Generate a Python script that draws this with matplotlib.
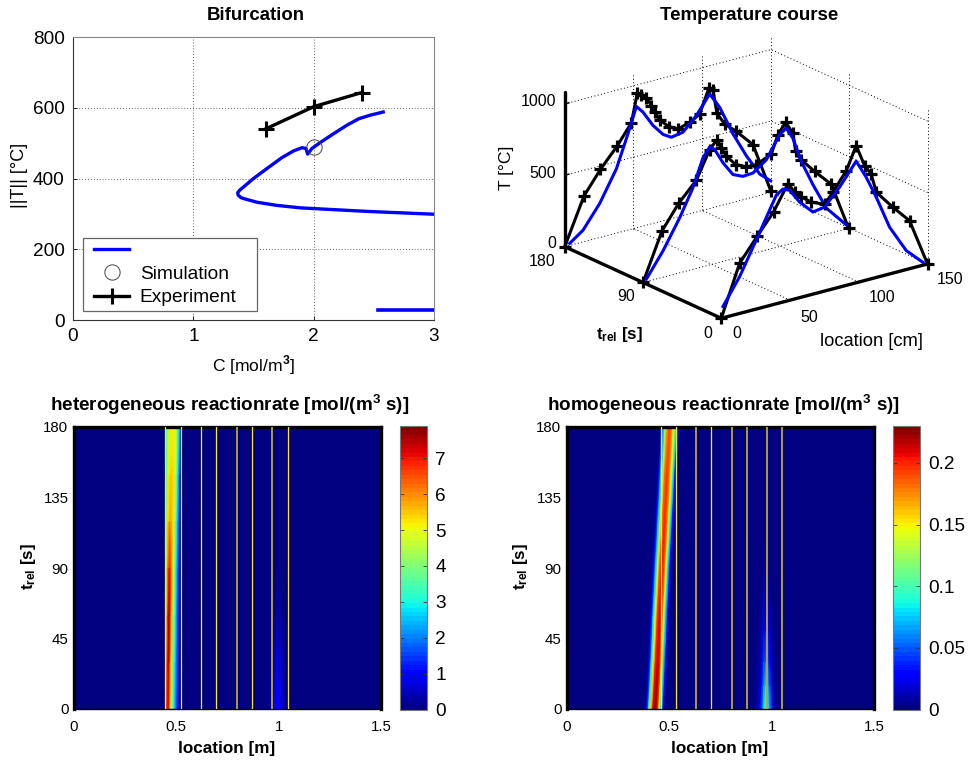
#!/usr/bin/env python3

import numpy as np
import matplotlib
matplotlib.use('Agg')
import matplotlib.pyplot as plt
from matplotlib.cm import ScalarMappable
from matplotlib.colors import Normalize
from matplotlib.legend_handler import HandlerLine2D
from matplotlib.lines import Line2D

plt.rcParams['font.family'] = ['Liberation Sans', 'DejaVu Sans']
plt.rcParams['mathtext.fontset'] = 'custom'
plt.rcParams['mathtext.rm'] = 'Liberation Sans'
plt.rcParams['mathtext.bf'] = 'Liberation Sans:bold'

W, H = 968, 765

# bifurcation diagram
bif_c = [2.578, 2.47, 2.375, 2.278, 2.167, 2.056, 1.986, 1.95, 1.936, 1.903, 1.833, 1.736, 1.611,
         1.5, 1.417, 1.385, 1.369, 1.372, 1.395, 1.431, 1.528, 1.694, 1.889, 2.167, 2.444, 2.722, 3.0]
bif_t = [588, 579, 569, 551, 527, 502, 485, 469, 485, 487, 478, 459, 428,
         400, 376, 367, 360, 353, 346, 342, 333, 324, 317, 312, 307, 303, 299]
low_c = [2.533, 3.0]
low_t = [27, 27]
exp_c = [1.6, 2.0, 2.4]
exp_t = [540, 603, 643]
sim_c = [2.0]
sim_t = [490]

# temperature course, one profile per t_rel
exp_x_180 = [0, 14, 26, 38, 48.5, 52.8, 55.7, 59.4, 63, 65.9, 69, 75.6, 82.4, 91.3, 98.1, 104.9,
             107.8, 110.7, 116.3, 124.8, 136.9, 150]
exp_z_180 = [0, 320, 476, 607, 745, 944, 918, 892, 829, 775, 713, 650, 616, 640, 681, 845,
             824, 653, 564, 491, 367, 7]
sim_x_180 = [3.6, 13.3, 25.4, 37.6, 46, 52.1, 56.9, 64.2, 71.5, 77.5, 86, 95.7, 105.4, 112.7,
             122.4, 132, 141.8, 149.7]
sim_z_180 = [14, 82, 238, 451, 675, 850, 798, 686, 605, 570, 584, 675, 802, 690, 479, 303, 149, 82]

exp_x_90 = [0, 13.8, 25.9, 38.8, 48.5, 53.8, 56.9, 60.6, 67.4, 75.1, 82.4, 93.3, 98.1, 103.7,
            109, 111, 115, 124.8, 136.9, 149.5]
exp_z_90 = [0, 326, 488, 618, 808, 864, 798, 730, 655, 619, 616, 663, 786, 858,
            769, 636, 568, 461, 341, 1]
sim_x_90 = [2.4, 14.5, 26.7, 36.3, 43.6, 48.5, 52.1, 58.2, 65.4, 72.7, 80, 89.7, 99.3, 104.2,
            109, 115.1, 123.6, 133.3, 147.8]
sim_z_90 = [17, 184, 386, 571, 762, 827, 799, 690, 590, 559, 564, 632, 783, 817,
            734, 556, 371, 183, 29]

exp_x_0 = [0, 13.3, 26.2, 38, 48.5, 53.3, 58.2, 65.4, 75.1, 81.2, 90.9, 98.1, 104.2, 109, 112.7,
           124.8, 136.9, 150]
exp_z_0 = [0, 351, 509, 648, 820, 749, 702, 648, 607, 678, 803, 960, 805, 734, 597,
           461, 336, 0]
sim_x_0 = [1.2, 13.3, 25.4, 35.1, 40, 44.8, 49.7, 56.9, 66.6, 75.1, 86, 98.1, 105.4, 112.7,
           122.4, 134.5, 146.6]
sim_z_0 = [79, 257, 483, 668, 760, 791, 770, 670, 575, 588, 700, 851, 720, 562, 327, 133, 20]

# heterogeneous rate, band near the first catalyst section
het_loc = [0.445, 0.447, 0.453, 0.46, 0.467, 0.475, 0.485, 0.495, 0.505, 0.515, 0.522, 0.528]
het_t = [0, 30, 60, 90, 120, 150, 180]
het_rate = [
    [0, 3.5, 6.8, 7.2, 6.2, 4.6, 3.3, 2.2, 1.2, 0.5, 0.2, 0],
    [0, 3.0, 6.2, 7.7, 7.0, 5.4, 3.8, 2.6, 1.4, 0.6, 0.2, 0],
    [0, 2.6, 5.5, 7.6, 7.7, 6.0, 4.4, 3.0, 1.7, 0.7, 0.2, 0],
    [0, 2.4, 4.8, 6.6, 7.2, 6.4, 5.0, 3.5, 2.1, 0.9, 0.3, 0],
    [0, 2.4, 4.1, 5.4, 5.9, 5.8, 5.3, 4.2, 2.7, 1.3, 0.5, 0],
    [0, 2.6, 3.7, 4.7, 5.3, 5.5, 5.4, 4.8, 3.3, 1.8, 0.9, 0],
    [0, 2.8, 3.6, 4.4, 4.8, 5.0, 5.1, 4.9, 4.0, 2.7, 1.6, 0],
]
het_spot_loc = [0.95, 0.968, 0.98, 0.99, 1.0, 1.01, 1.025, 1.04, 1.05]
het_spot_t = [0, 20, 40, 60, 90]
het_spot_rate = [
    [0, 0.3, 0.9, 1.1, 1.0, 0.8, 0.4, 0.1, 0],
    [0, 0.2, 0.6, 0.8, 0.8, 0.6, 0.3, 0.05, 0],
    [0, 0.1, 0.4, 0.5, 0.5, 0.4, 0.2, 0.03, 0],
    [0, 0.05, 0.15, 0.25, 0.25, 0.2, 0.1, 0, 0],
    [0, 0, 0, 0, 0, 0, 0, 0, 0],
]
het_sections = [0.4466, 0.523, 0.621, 0.696, 0.796, 0.869, 0.969, 1.044]
het_section_bright = [True, True, True, True, False, True, False, True]

# homogeneous rate, band drifts with time
hom_t = [0, 30, 60, 90, 120, 150, 180]
hom_peak = [0.43, 0.442, 0.452, 0.463, 0.476, 0.488, 0.50]
hom_off = [-0.05, -0.04, -0.03, -0.02, -0.01, 0, 0.01, 0.02, 0.03, 0.04, 0.05]
hom_rate = [
    [0, 0.03, 0.09, 0.16, 0.215, 0.23, 0.215, 0.155, 0.08, 0.025, 0],
    [0, 0.025, 0.08, 0.15, 0.2, 0.215, 0.205, 0.15, 0.08, 0.025, 0],
    [0, 0.025, 0.08, 0.145, 0.195, 0.21, 0.2, 0.15, 0.08, 0.025, 0],
    [0, 0.025, 0.075, 0.14, 0.19, 0.205, 0.195, 0.15, 0.08, 0.025, 0],
    [0, 0.025, 0.075, 0.135, 0.185, 0.2, 0.19, 0.15, 0.085, 0.03, 0.004],
    [0, 0.025, 0.07, 0.13, 0.18, 0.195, 0.185, 0.15, 0.09, 0.035, 0.008],
    [0, 0.02, 0.065, 0.125, 0.175, 0.19, 0.18, 0.15, 0.095, 0.04, 0.012],
]
hom_spot_loc = [0.915, 0.935, 0.95, 0.96, 0.97, 0.98, 0.99, 1.005, 1.02]
hom_spot_t = [0, 15, 30, 50, 70, 90, 110]
hom_spot_rate = [
    [0, 0.012, 0.04, 0.08, 0.105, 0.095, 0.065, 0.02, 0],
    [0, 0.008, 0.03, 0.06, 0.08, 0.072, 0.045, 0.012, 0],
    [0, 0.005, 0.02, 0.04, 0.055, 0.05, 0.03, 0.008, 0],
    [0, 0.003, 0.012, 0.024, 0.03, 0.028, 0.018, 0.005, 0],
    [0, 0.001, 0.006, 0.012, 0.016, 0.014, 0.009, 0.002, 0],
    [0, 0, 0.002, 0.005, 0.008, 0.007, 0.003, 0, 0],
    [0, 0, 0, 0, 0, 0, 0, 0, 0],
]
hom_sections = [0.458, 0.531, 0.631, 0.704, 0.806, 0.879, 0.979, 1.052]
hom_section_bright = [True, True, False, True, False, False, False, False]


def add_axes_px(left, top, right, bottom, **kwargs):
    return fig.add_axes([left / W, 1 - bottom / H, (right - left) / W, (bottom - top) / H], **kwargs)


def label(x, y, text, size, **kwargs):
    fig.text(x / W, 1 - y / H, text, fontsize=size,
             ha=kwargs.pop('ha', 'center'), va=kwargs.pop('va', 'center'), **kwargs)


def heat_panel(left, right, cleft, cright, vmax, cticks, cticklabels, sections, section_bright):
    ax = add_axes_px(left, 427, right, 709)
    ax.set_facecolor(jet(0))
    ax.set_xlim(0, 1.5)
    ax.set_ylim(0, 180)
    ax.set_xticks([0, 0.5, 1, 1.5])
    ax.set_xticklabels(['0', '0.5', '1', '1.5'])
    ax.set_yticks([0, 45, 90, 135, 180])
    ax.tick_params(length=0, labelsize=10.8)
    ax.tick_params(axis='x', pad=8)
    ax.tick_params(axis='y', pad=4)
    for side in ['top', 'left', 'right']:
        ax.spines[side].set_linewidth(2.4)
    ax.spines['bottom'].set_linewidth(1.0)

    cax = add_axes_px(cleft, 426, cright, 709.5)
    cb = fig.colorbar(ScalarMappable(Normalize(0, vmax), jet), cax=cax)
    cb.set_ticks(cticks)
    cb.set_ticklabels(cticklabels)
    cax.tick_params(length=3, width=0.6, direction='in', labelsize=13.7, pad=6, left=True, color='#333333')
    cb.outline.set_linewidth(0.8)
    cb.outline.set_edgecolor('#777777')

    for s, bright in zip(sections, section_bright):
        if bright:
            ax.axvline(s, color='#ffee00', lw=0.9, zorder=5)
        else:
            ax.axvline(s, color='#b5a62a', lw=1.35, zorder=5)
    return ax


jet = plt.get_cmap('jet', 64)
fig = plt.figure(figsize=(W / 100, H / 100), dpi=100)

# Bifurcation
ax1 = add_axes_px(73, 37, 434, 320)
ax1.plot(bif_c, bif_t, color='#0000ff', lw=2.4, label=' ', solid_joinstyle='round')
ax1.plot(low_c, low_t, color='#0000ff', lw=2.6)
ax1.plot(sim_c, sim_t, 'o', mfc='none', mec='#444444', mew=0.7, ms=11, label='Simulation')
ax1.plot(exp_c, exp_t, color='black', lw=2.4, marker='+', ms=11, mew=2.2, label='Experiment')
ax1.set_xlim(0, 3)
ax1.set_ylim(0, 800)
ax1.set_xticks([0, 1, 2, 3])
ax1.set_yticks([0, 200, 400, 600, 800])
ax1.tick_params(direction='in', length=3, width=0.6, labelsize=13.7, pad=6)
ax1.grid(True, linestyle=(0, (1, 2.5)), color='#333333', lw=0.6)
ax1.set_axisbelow(True)
for side in ['left', 'bottom']:
    ax1.spines[side].set_color('#333333')
for side in ['top', 'right']:
    ax1.spines[side].set_color('#888888')
leg = ax1.legend(loc='lower left', bbox_to_anchor=(0.028, 0.032, 0.482, 0.258), mode='expand', fontsize=13.8,
                 frameon=True, fancybox=False, framealpha=1, edgecolor='#666666', borderaxespad=0, borderpad=0.24,
                 handlelength=2.15, labelspacing=0.3, handletextpad=0.57,
                 handler_map={Line2D: HandlerLine2D(xpad=0.35)})
leg.get_frame().set_linewidth(0.9)

label(255.5, 15, 'Bifurcation', 13.4, fontweight='bold')
label(254, 365, r'C [mol/m$^{\mathbf{3}}$]', 12.6)
label(20, 175, '||T|| [°C]', 13, rotation=90)

# Temperature course
ax2 = fig.add_axes([(740.5 - 209) / W, 1 - (183.5 + 209) / H, 418 / W, 418 / H], projection='3d', computed_zorder=False)
ax2.set_proj_type('ortho')
ax2.set_xlim(0, 150, view_margin=0)
ax2.set_ylim(0, 180, view_margin=0)
ax2.set_zlim(0, 1085, view_margin=0)
ax2.set_box_aspect((1, 1, 0.638), zoom=0.933)
ax2.view_init(elev=20.3, azim=-127.2)
ax2.set_axis_off()
ax2.patch.set_alpha(0)

grid_kw = dict(color='black', lw=0.7, linestyle=(0, (1, 2.5)), zorder=1)
for t in [90, 180]:
    ax2.plot([0, 150], [t, t], [0, 0], **grid_kw)
for x in [50, 100, 150]:
    ax2.plot([x, x], [0, 180], [0, 0], **grid_kw)
    ax2.plot([x, x], [180, 180], [0, 1085], **grid_kw)
for t in [0, 90]:
    ax2.plot([150, 150], [t, t], [0, 1085], **grid_kw)
for z in [500, 1000]:
    ax2.plot([0, 150], [180, 180], [z, z], **grid_kw)
    ax2.plot([150, 150], [0, 180], [z, z], **grid_kw)

edge_kw = dict(color='black', lw=2.4, zorder=2, solid_capstyle='round')
ax2.plot([0, 0], [180, 0], [0, 0], **edge_kw)
ax2.plot([0, 150], [0, 0], [0, 0], **edge_kw)
ax2.plot([0, 0], [180, 180], [0, 1085], **edge_kw)
for z in [500, 1000]:
    ax2.plot([0, 3], [180, 180], [z, z], color='black', lw=1.0, zorder=2)

profiles = [
    (180, exp_x_180, exp_z_180, sim_x_180, sim_z_180),
    (90, exp_x_90, exp_z_90, sim_x_90, sim_z_90),
    (0, exp_x_0, exp_z_0, sim_x_0, sim_z_0),
]
for i, (t, ex, ez, sx, sz) in enumerate(profiles):
    ax2.plot(ex, [t] * len(ex), ez, color='black', lw=2.2, marker='+', ms=8.5, mew=2.3, zorder=3 + 2 * i)
    ax2.plot(sx, [t] * len(sx), sz, color='#0000ff', lw=2.2, zorder=4 + 2 * i)

label(749, 16, 'Temperature course', 13.5, fontweight='bold')
label(556, 101.7, '1000', 11.5, ha='right')
label(556, 173, '500', 11.5, ha='right')
label(556, 244, '0', 11.5, ha='right')
label(555, 262, '180', 11.5, ha='right')
label(625.7, 297, '90', 11.5)
label(707.7, 333, '0', 11.5)
label(737, 333, '0', 11.5)
label(809, 317, '50', 11.5)
label(882, 298, '100', 11.5)
label(950, 279, '150', 11.5)
label(507, 168, 'T [°C]', 12.6, rotation=90)
label(619, 334, r'$\mathbf{t_{rel}}$ [s]', 12.2, fontweight='bold')
label(871, 341, 'location [cm]', 13.2)

# Reaction rates
ax3 = heat_panel(74, 381, 400, 427, 7.9, [0, 1, 2, 3, 4, 5, 6, 7],
                 ['0', '1', '2', '3', '4', '5', '6', '7'], het_sections, het_section_bright)
X, Y = np.meshgrid(het_loc, het_t)
ax3.pcolormesh(X, Y, np.array(het_rate), cmap=jet, vmin=0, vmax=7.9, shading='gouraud')
X, Y = np.meshgrid(het_spot_loc, het_spot_t)
ax3.pcolormesh(X, Y, np.array(het_spot_rate), cmap=jet, vmin=0, vmax=7.9, shading='gouraud')

ax4 = heat_panel(567, 874, 893, 920, 0.23, [0, 0.05, 0.1, 0.15, 0.2],
                 ['0', '0.05', '0.1', '0.15', '0.2'], hom_sections, hom_section_bright)
X = np.add.outer(np.array(hom_peak), np.array(hom_off))
Y = np.repeat(np.array(hom_t)[:, None], len(hom_off), axis=1)
ax4.pcolormesh(X, Y, np.array(hom_rate), cmap=jet, vmin=0, vmax=0.23, shading='gouraud')
X, Y = np.meshgrid(hom_spot_loc, hom_spot_t)
ax4.pcolormesh(X, Y, np.array(hom_spot_rate), cmap=jet, vmin=0, vmax=0.23, shading='gouraud')

label(229.5, 405, r'heterogeneous reactionrate [mol/(m$^{\mathbf{3}}$ s)]', 13.6, fontweight='bold')
label(723, 405, r'homogeneous reactionrate [mol/(m$^{\mathbf{3}}$ s)]', 13.6, fontweight='bold')
label(227, 748, 'location [m]', 12.3, fontweight='bold')
label(720, 748, 'location [m]', 12.3, fontweight='bold')
label(28, 567, r'$\mathbf{t_{rel}}$ [s]', 12.2, fontweight='bold', rotation=90)
label(521, 567, r'$\mathbf{t_{rel}}$ [s]', 12.2, fontweight='bold', rotation=90)

fig.savefig('out.png', dpi=100)
